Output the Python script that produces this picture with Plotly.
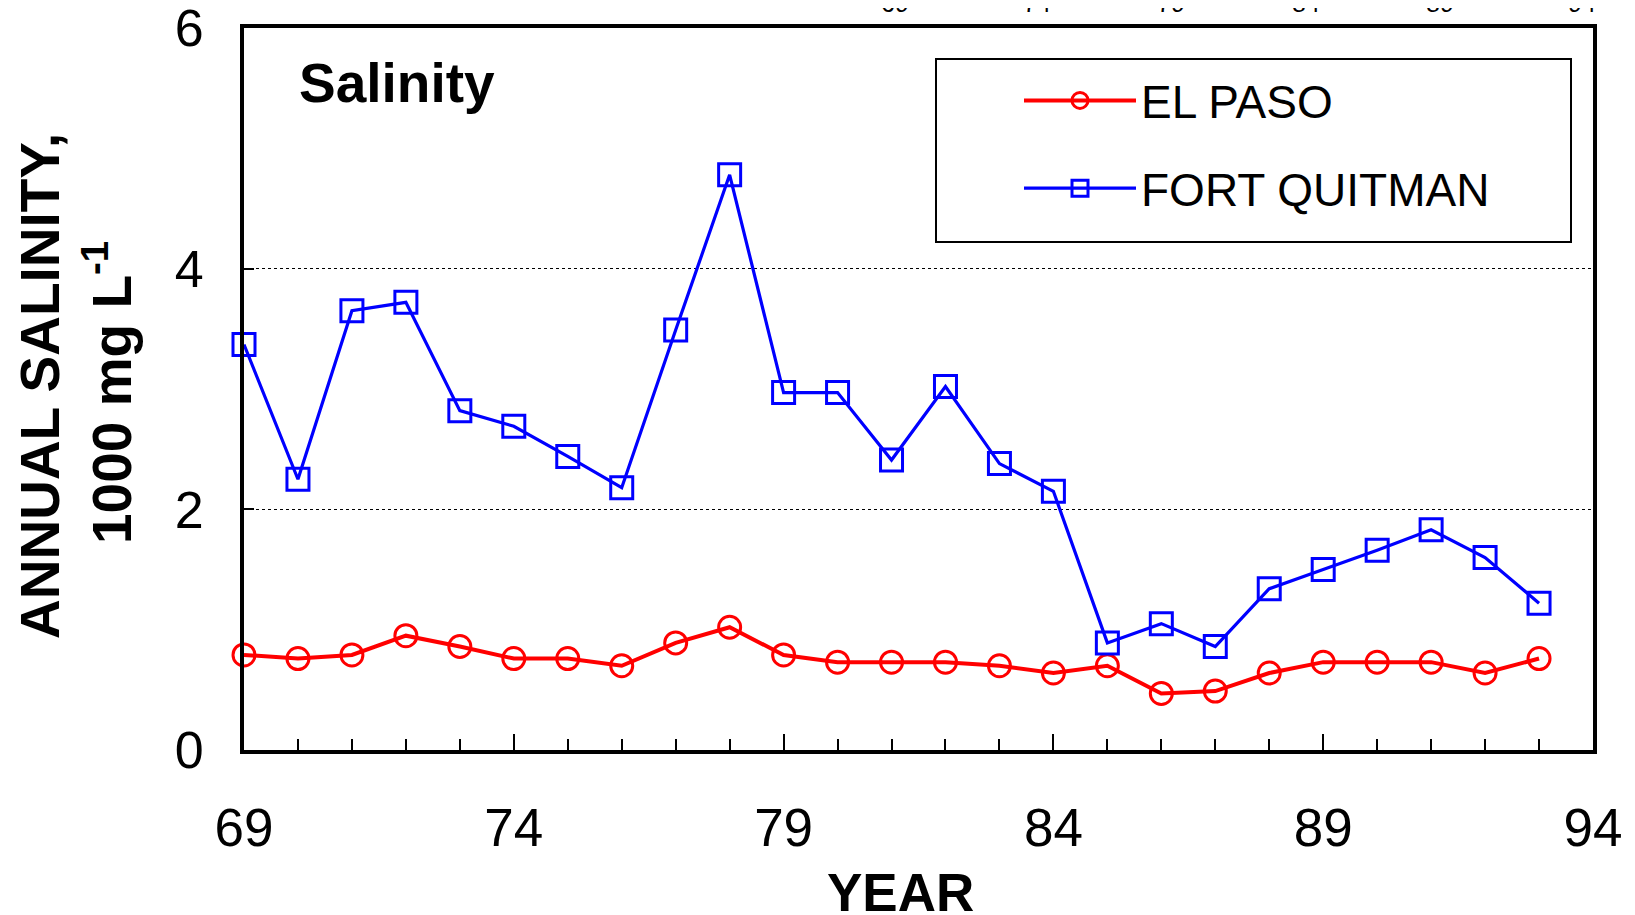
import plotly.graph_objects as go

years = list(range(69, 94))
el_paso = [0.79, 0.76, 0.79, 0.95, 0.86, 0.76, 0.76, 0.70, 0.89, 1.02, 0.79,
           0.73, 0.73, 0.73, 0.70, 0.64, 0.70, 0.47, 0.49, 0.64, 0.73, 0.73,
           0.73, 0.64, 0.76]
fort_quitman = [3.37, 2.25, 3.65, 3.72, 2.82, 2.69, 2.44, 2.18, 3.49, 4.78, 2.97,
                2.97, 2.41, 3.02, 2.38, 2.15, 0.89, 1.05, 0.86, 1.34, 1.50, 1.66,
                1.83, 1.60, 1.22]
x_ticks = [69, 74, 79, 84, 89, 94]
y_ticks = [0, 2, 4, 6]
top_labels = ["69", "74", "79", "84", "89", "94"]

FONT = "Liberation Sans, Arial, sans-serif"
W, H = 1635, 915
OFF = 8  # default page margin around the plot div
# plot area in page pixels
L, R, T, B = 244, 1593, 28, 750
pw, ph = R - L, B - T

def px(x):
    return (x - L) / pw

def py(y):
    return (B - y) / ph

fig = go.Figure()
fig.add_trace(go.Scatter(
    x=years, y=el_paso, name="EL PASO", mode="lines+markers",
    line=dict(color="#ff0000", width=4),
    marker=dict(symbol="circle-open", size=22, color="#ff0000", line=dict(width=3)),
    cliponaxis=False, legendgroup="a"))
fig.add_trace(go.Scatter(
    x=years, y=fort_quitman, name="FORT QUITMAN", mode="lines+markers",
    line=dict(color="#0000ff", width=3.2),
    marker=dict(symbol="square-open", size=22, color="#0000ff", line=dict(width=3)),
    cliponaxis=False, legendgroup="b"))

annotations = [
    dict(text="<b>Salinity</b>", x=px(297), y=py(83), xref="paper", yref="paper",
         xanchor="left", yanchor="middle", showarrow=False,
         font=dict(size=55, color="black", family=FONT)),
    dict(text="<b>YEAR</b>", x=px(900), y=py(892), xref="paper", yref="paper",
         xanchor="center", yanchor="middle", showarrow=False,
         font=dict(size=53, color="black", family=FONT)),
    dict(text="<b>ANNUAL SALINITY,</b>", x=px(40), y=py(386), xref="paper", yref="paper",
         xanchor="center", yanchor="middle", showarrow=False, textangle=-90,
         font=dict(size=55, color="black", family=FONT)),
    dict(text="<b>1000 mg L<sup>-1</sup></b>", x=px(108), y=py(393), xref="paper", yref="paper",
         xanchor="center", yanchor="middle", showarrow=False, textangle=-90,
         font=dict(size=55, color="black", family=FONT)),
]
top_x = [895, 1037, 1171, 1306, 1440, 1582]
for lab, xx in zip(top_labels, top_x):
    annotations.append(dict(text=lab, x=px(xx), y=py(19), xref="paper", yref="paper",
                            xanchor="center", yanchor="bottom", showarrow=False,
                            font=dict(size=25, color="black", family=FONT)))

shapes = [
    dict(type="rect", xref="paper", yref="paper",
         x0=px(936), x1=px(1571), y0=py(242), y1=py(59),
         line=dict(color="black", width=2), fillcolor="rgba(0,0,0,0)", layer="above"),
]

fig.update_layout(
    width=W, height=H,
    margin=dict(l=L - OFF, r=W - (R - OFF), t=T - OFF, b=H - (B - OFF), pad=0,
                autoexpand=False),
    paper_bgcolor="white", plot_bgcolor="white",
    font=dict(family=FONT, color="black"),
    showlegend=True,
    legend=dict(x=px(1019), y=py(64), xanchor="left", yanchor="top",
                borderwidth=0, bgcolor="rgba(0,0,0,0)",
                font=dict(size=46, family=FONT, color="black"),
                itemwidth=112, tracegroupgap=25),
    annotations=annotations,
    shapes=shapes,
)
fig.update_xaxes(
    range=[69, 94], tickvals=x_ticks, ticktext=[str(v) for v in x_ticks],
    ticks="inside", ticklen=16, tickwidth=2, tickcolor="black",
    minor=dict(dtick=1, tick0=69, ticks="inside", ticklen=11, tickwidth=2, tickcolor="black"),
    showline=True, linewidth=4, linecolor="black", mirror=True,
    showgrid=False, zeroline=False, automargin=False, ticklabeloverflow="allow",
    tickfont=dict(size=53, family=FONT, color="black"), ticklabelstandoff=28,
)
fig.update_yaxes(
    range=[0, 6], tickvals=y_ticks,
    ticks="inside", ticklen=10, tickwidth=2, tickcolor="black",
    showline=True, linewidth=4, linecolor="black", mirror=True,
    showgrid=True, gridcolor="black", gridwidth=1, griddash="dot", zeroline=False,
    automargin=False, ticklabeloverflow="allow",
    tickfont=dict(size=52, family=FONT, color="black"), ticklabelstandoff=26,
)
fig.write_html("out.html")
